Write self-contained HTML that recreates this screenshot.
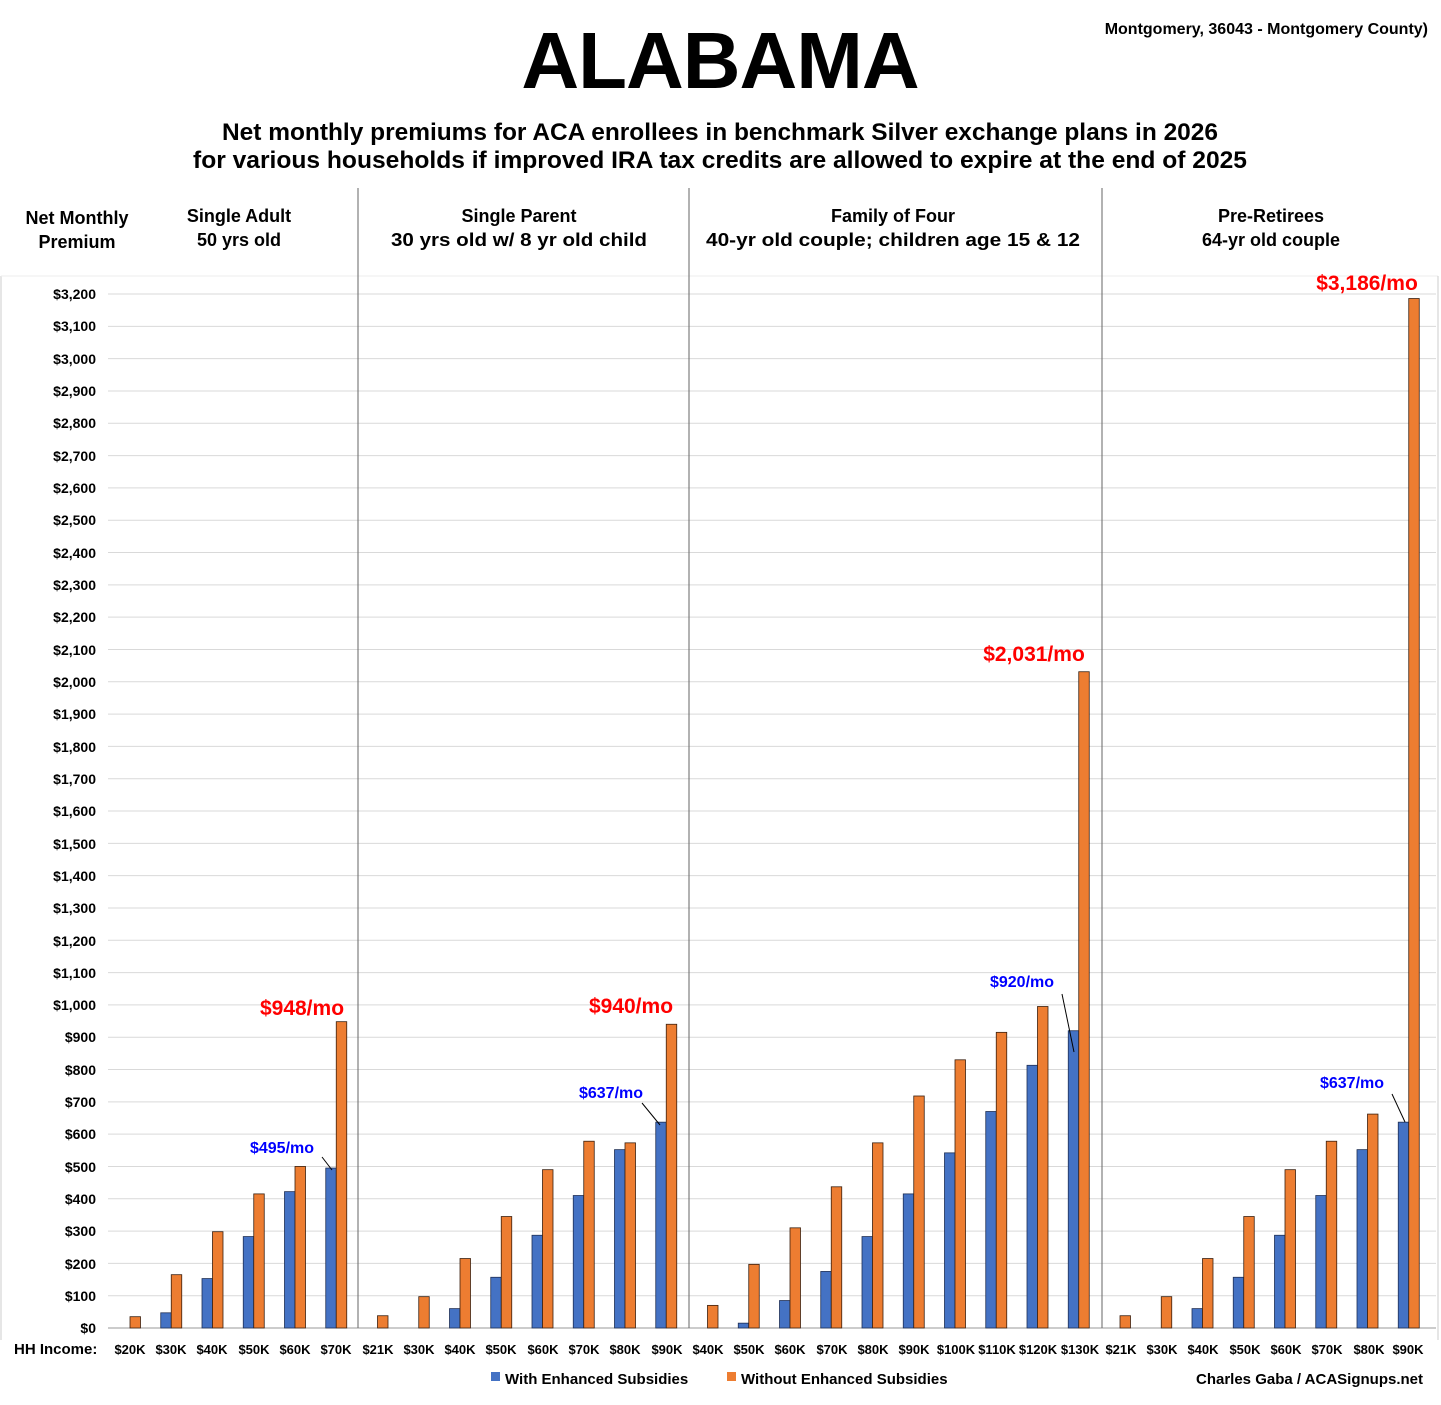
<!DOCTYPE html>
<html><head><meta charset="utf-8"><style>
body{margin:0;background:#fff;font-family:"Liberation Sans",Arial,sans-serif}
svg text{font-family:"Liberation Sans",Arial,sans-serif;font-weight:bold}
</style></head><body>
<svg id="s" width="1441" height="1400" xmlns="http://www.w3.org/2000/svg">
<rect width="1441" height="1400" fill="#fff"/>
<text x="720" y="88" font-size="80" text-anchor="middle" fill="#000" letter-spacing="-1">ALABAMA</text>
<text x="1428" y="34" font-size="16" text-anchor="end">Montgomery, 36043 - Montgomery County)</text>
<text x="720" y="140" font-size="24" text-anchor="middle" textLength="996" lengthAdjust="spacingAndGlyphs">Net monthly premiums for ACA enrollees in benchmark Silver exchange plans in 2026</text>
<text x="720" y="168" font-size="24" text-anchor="middle" textLength="1054" lengthAdjust="spacingAndGlyphs">for various households if improved IRA tax credits are allowed to expire at the end of 2025</text>
<g font-size="18" text-anchor="middle">
<text x="77" y="224">Net Monthly</text><text x="77" y="248">Premium</text>
<text x="239" y="222">Single Adult</text><text x="239" y="246">50 yrs old</text>
<text x="519" y="222">Single Parent</text><text x="519" y="246" textLength="256" lengthAdjust="spacingAndGlyphs">30 yrs old w/ 8 yr old child</text>
<text x="893" y="222">Family of Four</text><text x="893" y="246" textLength="374" lengthAdjust="spacingAndGlyphs">40-yr old couple; children age 15 &amp; 12</text>
<text x="1271" y="222">Pre-Retirees</text><text x="1271" y="246">64-yr old couple</text>
</g>
<g id="grid"></g>
<g font-size="14" text-anchor="end" id="yl">
<text x="96" y="1333">$0</text><text x="96" y="1301">$100</text><text x="96" y="1269">$200</text><text x="96" y="1236">$300</text><text x="96" y="1204">$400</text><text x="96" y="1172">$500</text><text x="96" y="1139">$600</text><text x="96" y="1107">$700</text><text x="96" y="1075">$800</text><text x="96" y="1042">$900</text><text x="96" y="1010">$1,000</text><text x="96" y="978">$1,100</text><text x="96" y="946">$1,200</text><text x="96" y="913">$1,300</text><text x="96" y="881">$1,400</text><text x="96" y="849">$1,500</text><text x="96" y="816">$1,600</text><text x="96" y="784">$1,700</text><text x="96" y="752">$1,800</text><text x="96" y="719">$1,900</text><text x="96" y="687">$2,000</text><text x="96" y="655">$2,100</text><text x="96" y="622">$2,200</text><text x="96" y="590">$2,300</text><text x="96" y="558">$2,400</text><text x="96" y="525">$2,500</text><text x="96" y="493">$2,600</text><text x="96" y="461">$2,700</text><text x="96" y="428">$2,800</text><text x="96" y="396">$2,900</text><text x="96" y="364">$3,000</text><text x="96" y="331">$3,100</text><text x="96" y="299">$3,200</text>
</g>
<g id="bars"></g>
<g font-size="13" text-anchor="middle" id="xl">
<text x="130" y="1354">$20K</text><text x="171" y="1354">$30K</text><text x="212" y="1354">$40K</text><text x="254" y="1354">$50K</text><text x="295" y="1354">$60K</text><text x="336" y="1354">$70K</text>
<text x="378" y="1354">$21K</text><text x="419" y="1354">$30K</text><text x="460" y="1354">$40K</text><text x="501" y="1354">$50K</text><text x="543" y="1354">$60K</text><text x="584" y="1354">$70K</text><text x="625" y="1354">$80K</text><text x="667" y="1354">$90K</text>
<text x="708" y="1354">$40K</text><text x="749" y="1354">$50K</text><text x="790" y="1354">$60K</text><text x="832" y="1354">$70K</text><text x="873" y="1354">$80K</text><text x="914" y="1354">$90K</text><text x="956" y="1354">$100K</text><text x="997" y="1354">$110K</text><text x="1038" y="1354">$120K</text><text x="1080" y="1354">$130K</text>
<text x="1121" y="1354">$21K</text><text x="1162" y="1354">$30K</text><text x="1203" y="1354">$40K</text><text x="1245" y="1354">$50K</text><text x="1286" y="1354">$60K</text><text x="1327" y="1354">$70K</text><text x="1369" y="1354">$80K</text><text x="1408" y="1354">$90K</text>
</g>
<text x="14" y="1354" font-size="15">HH Income:</text>
<g font-size="21" fill="#f00" text-anchor="middle">
<text x="302" y="1015">$948/mo</text><text x="631" y="1013">$940/mo</text><text x="1034" y="661">$2,031/mo</text><text x="1367" y="290">$3,186/mo</text>
</g>
<g font-size="16" fill="#00f" text-anchor="middle">
<text x="282" y="1153">$495/mo</text><text x="611" y="1098">$637/mo</text><text x="1022" y="987">$920/mo</text><text x="1352" y="1088">$637/mo</text>
</g>
<g stroke="#000" stroke-width="1">
<line x1="322" y1="1157" x2="332" y2="1170"/><line x1="642" y1="1103" x2="660" y2="1125"/><line x1="1062" y1="994" x2="1074" y2="1052"/><line x1="1392" y1="1094" x2="1405" y2="1122"/>
</g>
<rect x="491" y="1372" width="9" height="9" fill="#4472C4"/><text x="505" y="1384" font-size="15">With Enhanced Subsidies</text>
<rect x="727" y="1372" width="9" height="9" fill="#ED7D31"/><text x="741" y="1384" font-size="15">Without Enhanced Subsidies</text>
<text x="1423" y="1384" font-size="15" text-anchor="end">Charles Gaba / ACASignups.net</text>
</svg>
<script>
var NS="http://www.w3.org/2000/svg",g=document.getElementById('grid'),b=document.getElementById('bars');
function el(p,t,a){var e=document.createElementNS(NS,t);for(var k in a)e.setAttribute(k,a[k]);p.appendChild(e);}
function Y(v){return 1328-v*(1034/3200);}
for(var i=1;i<=32;i++)el(g,'line',{x1:108,x2:1436,y1:Y(i*100),y2:Y(i*100),stroke:'#d9d9d9','stroke-width':1});
el(g,'line',{x1:108,x2:1436,y1:1328,y2:1328,stroke:'#999'});
el(g,'line',{x1:1,x2:1,y1:276,y2:1340,stroke:'#ccc'});
el(g,'line',{x1:1,x2:1438,y1:276,y2:276,stroke:'#eee'});
el(g,'line',{x1:1438,x2:1438,y1:276,y2:1340,stroke:'#ccc'});
[358,689,1102].forEach(function(x){el(g,'line',{x1:x,x2:x,y1:188,y2:1328,stroke:'#666'});});
var B=[0,47,153,283,422,495, 0,0,60,157,287,410,552,637, 0,15,85,175,283,415,542,670,813,920, 0,0,60,157,287,410,552,637];
var O=[35,165,298,415,500,948, 38,97,215,345,490,578,573,940, 70,197,310,437,573,718,830,915,995,2031, 38,97,215,345,490,578,662,3186];
for(var i=0;i<32;i++){var c=130+i*41.25;
if(B[i]>0)el(b,'rect',{x:c-10.5,y:Y(B[i]),width:10.5,height:1328-Y(B[i]),fill:'#4472C4',stroke:'#1f2f55','stroke-width':0.8});
el(b,'rect',{x:c,y:Y(O[i]),width:10.5,height:1328-Y(O[i]),fill:'#ED7D31',stroke:'#3a2010','stroke-width':0.8});}
</script>
</body></html>
